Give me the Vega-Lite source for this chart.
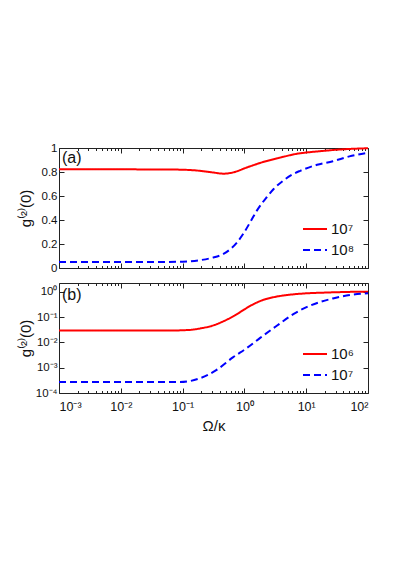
{
  "$schema": "https://vega.github.io/schema/vega-lite/v6.json",
  "padding": {"left": 17, "top": 141, "right": 5, "bottom": 5},
  "background": "white",
  "config": {
    "font": "Liberation Sans",
    "view": {"stroke": "#222", "strokeWidth": 1},
    "axis": {"domain": false, "grid": false, "tickColor": "#222", "labelColor": "#111", "titleColor": "#111", "labelFont": "Liberation Sans", "titleFont": "Liberation Sans", "titleFontWeight": "normal"}
  },
  "spacing": 8,
  "resolve": {"scale": {"x": "independent", "y": "independent", "color": "independent", "strokeDash": "independent"}},
  "vconcat": [
    {
      "width": 309,
      "height": 120,
      "data": {"values": [
        {"x": 0.001, "g": 0.822, "n": "10⁷"},
        {"x": 0.01, "g": 0.822, "n": "10⁷"},
        {"x": 0.05, "g": 0.821, "n": "10⁷"},
        {"x": 0.1, "g": 0.819, "n": "10⁷"},
        {"x": 0.19, "g": 0.81, "n": "10⁷"},
        {"x": 0.32, "g": 0.795, "n": "10⁷"},
        {"x": 0.46, "g": 0.786, "n": "10⁷"},
        {"x": 0.66, "g": 0.797, "n": "10⁷"},
        {"x": 1.1, "g": 0.838, "n": "10⁷"},
        {"x": 2, "g": 0.883, "n": "10⁷"},
        {"x": 3.8, "g": 0.92, "n": "10⁷"},
        {"x": 7.1, "g": 0.952, "n": "10⁷"},
        {"x": 10, "g": 0.962, "n": "10⁷"},
        {"x": 20, "g": 0.977, "n": "10⁷"},
        {"x": 30, "g": 0.985, "n": "10⁷"},
        {"x": 50, "g": 0.992, "n": "10⁷"},
        {"x": 100, "g": 0.998, "n": "10⁷"},
        {"x": 0.001, "g": 0.05, "n": "10⁸"},
        {"x": 0.05, "g": 0.05, "n": "10⁸"},
        {"x": 0.1, "g": 0.053, "n": "10⁸"},
        {"x": 0.19, "g": 0.065, "n": "10⁸"},
        {"x": 0.3, "g": 0.085, "n": "10⁸"},
        {"x": 0.45, "g": 0.115, "n": "10⁸"},
        {"x": 0.6, "g": 0.16, "n": "10⁸"},
        {"x": 0.75, "g": 0.21, "n": "10⁸"},
        {"x": 1, "g": 0.3, "n": "10⁸"},
        {"x": 1.3, "g": 0.4, "n": "10⁸"},
        {"x": 1.6, "g": 0.48, "n": "10⁸"},
        {"x": 2.3, "g": 0.59, "n": "10⁸"},
        {"x": 3, "g": 0.66, "n": "10⁸"},
        {"x": 4.3, "g": 0.73, "n": "10⁸"},
        {"x": 6, "g": 0.78, "n": "10⁸"},
        {"x": 8, "g": 0.81, "n": "10⁸"},
        {"x": 15, "g": 0.86, "n": "10⁸"},
        {"x": 27, "g": 0.89, "n": "10⁸"},
        {"x": 50, "g": 0.93, "n": "10⁸"},
        {"x": 100, "g": 0.96, "n": "10⁸"}
      ]},
      "resolve": {"axis": {"x": "independent", "y": "independent"}},
      "layer": [
        {
          "mark": {"type": "line", "strokeWidth": 2, "interpolate": "monotone"},
          "encoding": {
            "x": {"field": "x", "type": "quantitative", "scale": {"type": "log", "domain": [0.001, 100], "nice": false},
              "axis": {"orient": "bottom", "title": null, "labels": false, "minExtent": 0, "maxExtent": 0,
                "values": [0.001,0.002,0.003,0.004,0.005,0.006,0.007,0.008,0.009,0.01,0.02,0.03,0.04,0.05,0.06,0.07,0.08,0.09,0.1,0.2,0.3,0.4,0.5,0.6,0.7,0.8,0.9,1,2,3,4,5,6,7,8,9,10,20,30,40,50,60,70,80,90,100],
                "tickSize": {"condition": {"test": "abs(log(datum.value)/LN10 - round(log(datum.value)/LN10)) < 0.01", "value": -5}, "value": -2.5}}},
            "y": {"field": "g", "type": "quantitative", "scale": {"domain": [0, 1], "nice": false},
              "axis": {"orient": "left", "title": "g⁽²⁾(0)", "titleFontSize": 15, "titlePadding": 2, "labelFontSize": 11.5, "labelPadding": 7, "minExtent": 24, "maxExtent": 24, "values": [0, 0.2, 0.4, 0.6, 0.8, 1], "format": "~g", "tickSize": -5}},
            "color": {"field": "n", "type": "nominal", "scale": {"domain": ["10⁷", "10⁸"], "range": ["#ff0000", "#0000ff"]},
              "legend": {"title": null, "orient": "none", "legendX": 243, "legendY": 68, "symbolType": "stroke", "symbolSize": 576, "symbolStrokeWidth": 2, "labelFontSize": 15, "labelOffset": 3, "rowPadding": -2, "labelColor": "#111"}},
            "strokeDash": {"field": "n", "type": "nominal", "scale": {"domain": ["10⁷", "10⁸"], "range": [[1, 0], [7, 4]]},
              "legend": {"title": null, "orient": "none", "legendX": 243, "legendY": 68, "symbolType": "stroke", "symbolSize": 576, "symbolStrokeWidth": 2, "labelFontSize": 15, "labelOffset": 3, "rowPadding": -2, "labelColor": "#111"}}
          }
        },
        {
          "data": {"values": [{"x": 0.00112, "g": 0.915, "label": "(a)"}]},
          "mark": {"type": "text", "fontSize": 16, "align": "left", "baseline": "middle", "color": "#111"},
          "encoding": {
            "x": {"field": "x", "type": "quantitative",
              "axis": {"orient": "top", "title": null, "labels": false, "minExtent": 0, "maxExtent": 0,
                "values": [0.001,0.002,0.003,0.004,0.005,0.006,0.007,0.008,0.009,0.01,0.02,0.03,0.04,0.05,0.06,0.07,0.08,0.09,0.1,0.2,0.3,0.4,0.5,0.6,0.7,0.8,0.9,1,2,3,4,5,6,7,8,9,10,20,30,40,50,60,70,80,90,100],
                "tickSize": {"condition": {"test": "abs(log(datum.value)/LN10 - round(log(datum.value)/LN10)) < 0.01", "value": -5}, "value": -2.5}}},
            "y": {"field": "g", "type": "quantitative",
              "axis": {"orient": "right", "title": null, "labels": false, "minExtent": 0, "maxExtent": 0, "values": [0, 0.2, 0.4, 0.6, 0.8, 1], "tickSize": -5}},
            "text": {"field": "label"}
          }
        }
      ]
    },
    {
      "width": 309,
      "height": 110,
      "data": {"values": [
        {"x": 0.001, "g": 0.029, "n": "10⁶"},
        {"x": 0.01, "g": 0.029, "n": "10⁶"},
        {"x": 0.05, "g": 0.029, "n": "10⁶"},
        {"x": 0.1, "g": 0.03, "n": "10⁶"},
        {"x": 0.15, "g": 0.032, "n": "10⁶"},
        {"x": 0.2, "g": 0.036, "n": "10⁶"},
        {"x": 0.3, "g": 0.045, "n": "10⁶"},
        {"x": 0.5, "g": 0.075, "n": "10⁶"},
        {"x": 0.7, "g": 0.115, "n": "10⁶"},
        {"x": 1, "g": 0.2, "n": "10⁶"},
        {"x": 1.4, "g": 0.32, "n": "10⁶"},
        {"x": 2, "g": 0.47, "n": "10⁶"},
        {"x": 3, "g": 0.61, "n": "10⁶"},
        {"x": 5, "g": 0.74, "n": "10⁶"},
        {"x": 10, "g": 0.86, "n": "10⁶"},
        {"x": 20, "g": 0.92, "n": "10⁶"},
        {"x": 30, "g": 0.95, "n": "10⁶"},
        {"x": 50, "g": 0.98, "n": "10⁶"},
        {"x": 100, "g": 1.0, "n": "10⁶"},
        {"x": 0.001, "g": 0.00027, "n": "10⁷"},
        {"x": 0.01, "g": 0.00027, "n": "10⁷"},
        {"x": 0.09, "g": 0.00027, "n": "10⁷"},
        {"x": 0.19, "g": 0.00038, "n": "10⁷"},
        {"x": 0.35, "g": 0.0008, "n": "10⁷"},
        {"x": 0.66, "g": 0.0026, "n": "10⁷"},
        {"x": 1.1, "g": 0.006, "n": "10⁷"},
        {"x": 1.8, "g": 0.015, "n": "10⁷"},
        {"x": 3.3, "g": 0.044, "n": "10⁷"},
        {"x": 6.2, "g": 0.13, "n": "10⁷"},
        {"x": 11.5, "g": 0.28, "n": "10⁷"},
        {"x": 27, "g": 0.54, "n": "10⁷"},
        {"x": 51, "g": 0.74, "n": "10⁷"},
        {"x": 100, "g": 0.87, "n": "10⁷"}
      ]},
      "resolve": {"axis": {"x": "independent", "y": "independent"}},
      "layer": [
        {
          "mark": {"type": "line", "strokeWidth": 2, "interpolate": "monotone"},
          "encoding": {
            "x": {"field": "x", "type": "quantitative", "scale": {"type": "log", "domain": [0.001, 100], "nice": false},
              "axis": {"orient": "bottom", "title": "Ω/κ", "titleFontSize": 15, "titlePadding": 3, "labelFontSize": 12.5, "labelPadding": 12,
                "values": [0.001,0.002,0.003,0.004,0.005,0.006,0.007,0.008,0.009,0.01,0.02,0.03,0.04,0.05,0.06,0.07,0.08,0.09,0.1,0.2,0.3,0.4,0.5,0.6,0.7,0.8,0.9,1,2,3,4,5,6,7,8,9,10,20,30,40,50,60,70,80,90,100],
                "labelExpr": "abs(log(datum.value)/LN10 - round(log(datum.value)/LN10)) < 0.01 ? '10' + ['⁻³','⁻²','⁻¹','⁰','¹','²'][round(log(datum.value)/LN10) + 3] : ''",
                "labelOverlap": false,
                "tickSize": {"condition": {"test": "abs(log(datum.value)/LN10 - round(log(datum.value)/LN10)) < 0.01", "value": -5}, "value": -2.5}}},
            "y": {"field": "g", "type": "quantitative", "scale": {"type": "log", "domain": [0.0001, 2.2], "nice": false},
              "axis": {"orient": "left", "title": "g⁽²⁾(0)", "titleFontSize": 15, "titlePadding": 2, "labelFontSize": 11.5, "labelPadding": 7, "minExtent": 24, "maxExtent": 24, "values": [0.0001, 0.001, 0.01, 0.1, 1],
                "labelExpr": "'10' + ['⁻⁴','⁻³','⁻²','⁻¹','⁰'][round(log(datum.value)/LN10) + 4]", "labelOverlap": false, "tickSize": -5}},
            "color": {"field": "n", "type": "nominal", "scale": {"domain": ["10⁶", "10⁷"], "range": ["#ff0000", "#0000ff"]},
              "legend": {"title": null, "orient": "none", "legendX": 243, "legendY": 58, "symbolType": "stroke", "symbolSize": 576, "symbolStrokeWidth": 2, "labelFontSize": 15, "labelOffset": 3, "rowPadding": -3, "labelColor": "#111"}},
            "strokeDash": {"field": "n", "type": "nominal", "scale": {"domain": ["10⁶", "10⁷"], "range": [[1, 0], [7, 4]]},
              "legend": {"title": null, "orient": "none", "legendX": 243, "legendY": 58, "symbolType": "stroke", "symbolSize": 576, "symbolStrokeWidth": 2, "labelFontSize": 15, "labelOffset": 3, "rowPadding": -3, "labelColor": "#111"}}
          }
        },
        {
          "data": {"values": [{"x": 0.00112, "g": 0.74, "label": "(b)"}]},
          "mark": {"type": "text", "fontSize": 16, "align": "left", "baseline": "middle", "color": "#111"},
          "encoding": {
            "x": {"field": "x", "type": "quantitative",
              "axis": {"orient": "top", "title": null, "labels": false, "minExtent": 0, "maxExtent": 0,
                "values": [0.001,0.002,0.003,0.004,0.005,0.006,0.007,0.008,0.009,0.01,0.02,0.03,0.04,0.05,0.06,0.07,0.08,0.09,0.1,0.2,0.3,0.4,0.5,0.6,0.7,0.8,0.9,1,2,3,4,5,6,7,8,9,10,20,30,40,50,60,70,80,90,100],
                "tickSize": {"condition": {"test": "abs(log(datum.value)/LN10 - round(log(datum.value)/LN10)) < 0.01", "value": -5}, "value": -2.5}}},
            "y": {"field": "g", "type": "quantitative",
              "axis": {"orient": "right", "title": null, "labels": false, "minExtent": 0, "maxExtent": 0, "values": [0.0001, 0.001, 0.01, 0.1, 1], "tickSize": -5}},
            "text": {"field": "label"}
          }
        }
      ]
    }
  ]
}
